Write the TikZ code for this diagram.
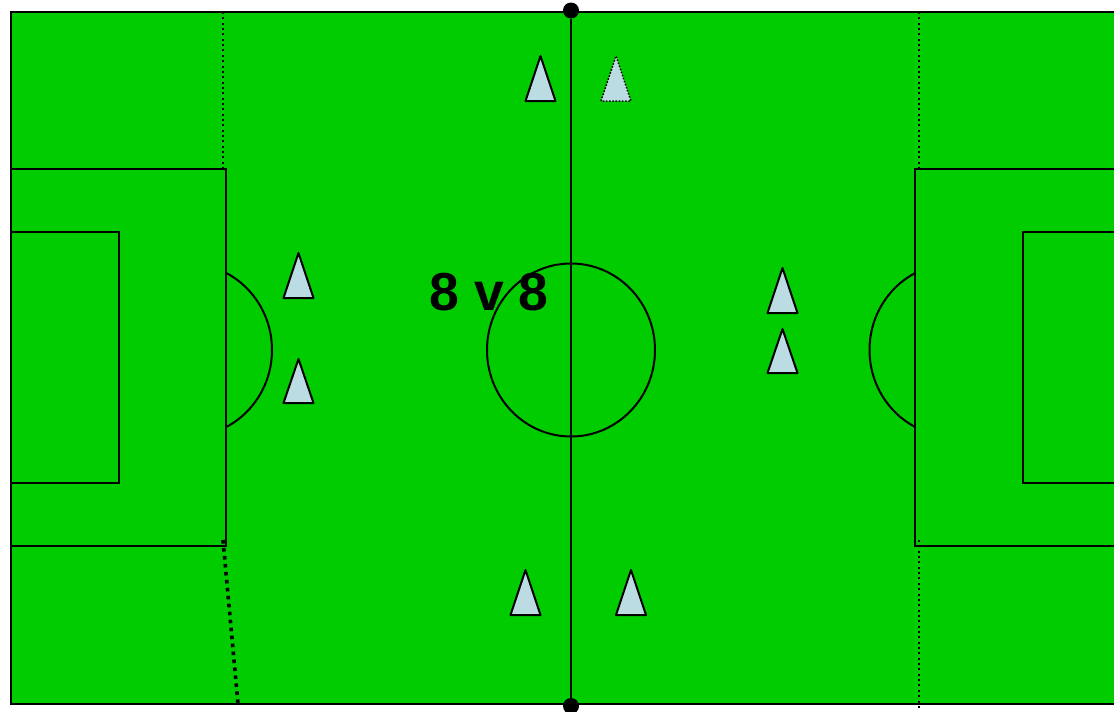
\documentclass[tikz,border=0pt]{standalone}
\usepackage{fontspec}
\setsansfont{Liberation Sans}
\definecolor{pitch}{HTML}{00CC00}
\definecolor{conefill}{HTML}{BCDCE4}
\tikzset{
  line/.style={line width=2pt},
  cone/.style={line width=2pt, fill=conefill, line join=round},
  thindots/.style={line width=2pt, dash pattern=on 2pt off 3.35pt},
  thickdots/.style={line width=3.6pt, dash pattern=on 3.6pt off 4.4pt},
  spot/.style={circle, fill=black, inner sep=0pt, minimum size=16pt}
}
\begin{document}
\begin{tikzpicture}[x=1pt, y=-1pt]
  \useasboundingbox (0, 0) rectangle (1114, 712);
  \clip (0, 0) rectangle (1114, 712);
  \fill[white] (0, 0) rectangle (1114, 712);
  \draw[line, fill=pitch] (11, 12) rectangle (1130, 704);
  % boxes
  \draw[line] (11, 169) rectangle (226, 546);
  \draw[line] (11, 232) rectangle (119, 483);
  \draw[line] (1130, 169) rectangle (915, 546);
  \draw[line] (1130, 232) rectangle (1023, 483);
  % circle and arcs
  \draw[line] (571, 350) ellipse [x radius=84, y radius=86.5];
  \begin{scope}
    \clip (226, 200) rectangle (300, 500);
    \draw[line] (188, 350) ellipse [x radius=84, y radius=86.5];
  \end{scope}
  \begin{scope}
    \clip (840, 200) rectangle (915, 500);
    \draw[line] (953.5, 350) ellipse [x radius=84, y radius=86.5];
  \end{scope}
  % halfway line
  \node[spot] (top) at (571, 10.5) {};
  \node[spot] (bottom) at (571, 706) {};
  \draw[line] (top) -- (bottom);
  % dotted lines
  \draw[thindots] (223, 12) -- (223, 168);
  \draw[thindots] (918.5, 12) -- (918.5, 168);
  \draw[thindots] (918.5, 540) -- (918.5, 708);
  \draw[thickdots] (223, 540) -- (238, 704);
  % cones
  \foreach \x/\a/\b in {540.5/56/101, 298.5/253/298, 298.5/359/403, 782.5/268/313,
                        782.5/329/373, 525.5/570/615, 631/570/615}
    \draw[cone] (\x-15, \b) -- (\x, \a) -- (\x+15, \b) -- cycle;
  \fill[conefill] (601, 101) -- (616, 56) -- (631, 101) -- cycle;
  \draw[line width=1.5pt, dash pattern=on 1.6pt off 1.6pt] (601, 101) -- (616, 56) -- (631, 101) -- cycle;
  \node[font=\sffamily\bfseries\fontsize{53.5}{54}\selectfont, inner sep=0pt] (label) at (489, 292) {8 v 8};
\end{tikzpicture}
\end{document}
